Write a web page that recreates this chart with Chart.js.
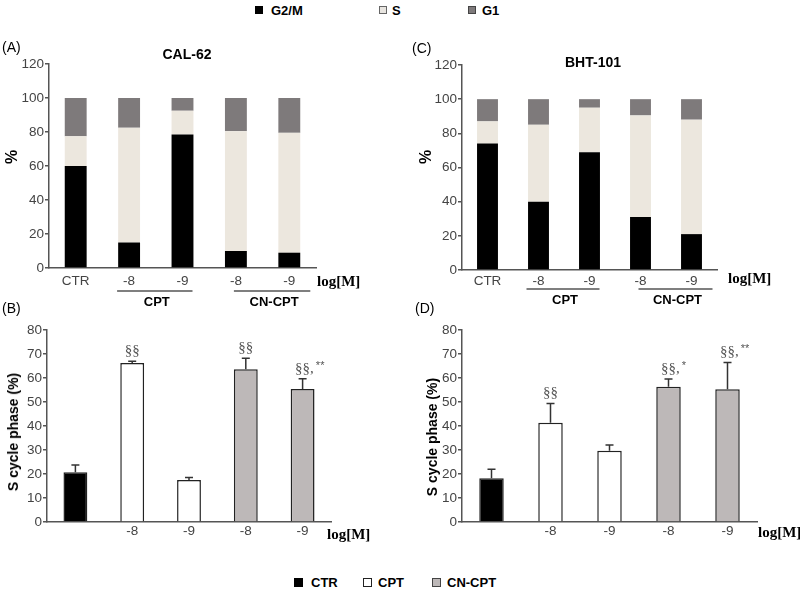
<!DOCTYPE html>
<html><head><meta charset="utf-8">
<script src="https://cdn.jsdelivr.net/npm/chart.js@4.4.0/dist/chart.umd.min.js"></script>
<style>
body{margin:0;background:#fff;width:800px;height:589px;position:relative;overflow:hidden;font-family:"Liberation Sans",Arial,sans-serif;}
canvas{position:absolute;}
.t{position:absolute;white-space:nowrap;color:#000;line-height:1;transform:translate(-50%,-50%);}
.l{position:absolute;white-space:nowrap;color:#000;line-height:1;transform:translateY(-50%);}
.b{font-weight:bold;}
.r{transform:translate(-50%,-50%) rotate(-90deg);}
.sq{position:absolute;width:8px;height:8px;box-sizing:border-box;}
</style></head><body>
<script>
// ---- data ----
const topCats = ["CTR", "-8", "-9", "-8", "-9"];
const botCats = ["", "-8", "-9", "-8", "-9"];
const groupNames = ["CPT", "CN-CPT"];
const phaseNames = ["G2/M", "S", "G1"];
const treatNames = ["CTR", "CPT", "CN-CPT"];

// CAL-62 (A)
const g2mA = [60, 15, 78.5, 10, 9];
const sA   = [17.5, 67.5, 14, 70.5, 70.5];
const g1A  = [22.5, 17.5, 7.5, 19.5, 20.5];
// BHT-101 (C)
const g2mC = [74, 40, 69, 31, 21];
const sC   = [13, 45, 26, 59.5, 67];
const g1C  = [13, 15, 5, 9.5, 12];
// S phase (B) CAL-62
const sPhaseB = [20.7, 66.2, 17.5, 63.6, 55.4];
const errB    = [3, 0.8, 1, 4.6, 4.3];
const sigB    = ["", "§§", "", "§§", "§§,"];
const supB    = ["", "", "", "", "**"];
// S phase (D) BHT-101
const sPhaseD = [18.2, 41.4, 29.7, 56.4, 55.3];
const errD    = [3.8, 8, 2.4, 3.2, 11.2];
const sigD    = ["", "§§", "", "§§,", "§§,"];
const supD    = ["", "", "", "*", "**"];
</script>

<canvas id="cA" width="400" height="275" style="left:0;top:40px"></canvas>
<canvas id="cC" width="400" height="275" style="left:400px;top:40px"></canvas>
<canvas id="cB" width="400" height="250" style="left:0;top:300px"></canvas>
<canvas id="cD" width="400" height="250" style="left:400px;top:300px"></canvas>

<!-- top legend -->
<div class="sq" style="left:255px;top:6px;background:#000"></div>
<div class="l b" style="left:271px;top:10px;font-size:13px" id="lg0"></div>
<div class="sq" style="left:379px;top:6px;background:#e8e5e0;border:1px solid #666"></div>
<div class="l b" style="left:392px;top:10px;font-size:13px" id="lg1"></div>
<div class="sq" style="left:468px;top:6px;background:#7e7a7b;border:1px solid #444"></div>
<div class="l b" style="left:482px;top:10px;font-size:13px" id="lg2"></div>

<!-- panel labels & titles -->
<div class="l" style="left:2px;top:47px;font-size:14px">(A)</div>
<div class="l" style="left:412px;top:48px;font-size:14px">(C)</div>
<div class="l" style="left:2px;top:308px;font-size:14px">(B)</div>
<div class="l" style="left:415px;top:308px;font-size:14px">(D)</div>
<div class="t b" style="left:187px;top:54px;font-size:14px">CAL-62</div>
<div class="t b" style="left:593px;top:62px;font-size:14px">BHT-101</div>
<div class="t b r" style="left:12px;top:157px;font-size:16px">%</div>
<div class="t b r" style="left:426px;top:157px;font-size:16px">%</div>
<div class="t b r" style="left:13px;top:432px;font-size:14px">S cycle phase (%)</div>
<div class="t b r" style="left:432px;top:437px;font-size:14px">S cycle phase (%)</div>

<!-- bottom legend -->
<div class="sq" style="left:294px;top:578px;width:9px;height:9px;background:#000"></div>
<div class="l b" style="left:311px;top:582px;font-size:13px" id="lb0"></div>
<div class="sq" style="left:363px;top:578px;width:9px;height:9px;background:#fff;border:1px solid #222"></div>
<div class="l b" style="left:378px;top:582px;font-size:13px" id="lb1"></div>
<div class="sq" style="left:432px;top:578px;width:9px;height:9px;background:#bdb8b8;border:1px solid #444"></div>
<div class="l b" style="left:447px;top:582px;font-size:13px" id="lb2"></div>

<script>
phaseNames.forEach((n,i)=>document.getElementById('lg'+i).textContent=n);
treatNames.forEach((n,i)=>document.getElementById('lb'+i).textContent=n);

const SANS = '"Liberation Sans", Arial, sans-serif';
const SERIF = '"Liberation Serif", "Times New Roman", serif';

const extrasPlugin = {
  id: 'extras',
  afterDraw(chart, args, o) {
    const {ctx, chartArea, scales: {x}} = chart;
    ctx.save();
    ctx.font = 'bold 15px ' + SERIF;
    ctx.fillStyle = '#000';
    ctx.textAlign = 'left';
    ctx.textBaseline = 'middle';
    ctx.fillText('log[M]', chartArea.right + o.logDx, chartArea.bottom + o.logDy);
    if (o.groups) {
      const spans = [[1, 2, -12, 10], [3, 4, -2, 21]];
      spans.forEach((s, gi) => {
        const x0 = x.getPixelForValue(s[0]) + s[2];
        const x1 = x.getPixelForValue(s[1]) + s[3];
        const ly = chartArea.bottom + o.lineDy;
        ctx.strokeStyle = '#555';
        ctx.lineWidth = 1.5;
        ctx.beginPath(); ctx.moveTo(x0, ly); ctx.lineTo(x1, ly); ctx.stroke();
        ctx.font = 'bold 13px ' + SANS;
        ctx.textAlign = 'center';
        ctx.fillStyle = '#000';
        ctx.fillText(groupNames[gi], (x0 + x1) / 2 + 2, chartArea.bottom + o.labelDy);
      });
    }
    ctx.restore();
  }
};

const errPlugin = {
  id: 'err',
  afterDatasetsDraw(chart, args, o) {
    if (!o.err) return;
    const {ctx, scales: {x, y}} = chart;
    const vals = chart.data.datasets[0].data;
    ctx.save();
    vals.forEach((v, i) => {
      const cx = x.getPixelForValue(i);
      const top = y.getPixelForValue(v);
      const et = y.getPixelForValue(v + o.err[i]);
      ctx.strokeStyle = '#333';
      ctx.lineWidth = 1.5;
      ctx.beginPath();
      ctx.moveTo(cx, top); ctx.lineTo(cx, et);
      ctx.moveTo(cx - 4, et); ctx.lineTo(cx + 4, et);
      ctx.stroke();
      if (o.sig[i]) {
        ctx.font = '15px ' + SERIF;
        ctx.fillStyle = '#555';
        ctx.textAlign = 'left';
        ctx.textBaseline = 'alphabetic';
        const w = ctx.measureText('§§').width;
        const xx = cx - w / 2;
        ctx.fillText(o.sig[i], xx, et - 6);
        if (o.sup[i]) {
          const mw = ctx.measureText(o.sig[i]).width;
          ctx.font = '11px ' + SANS;
          ctx.fillText(o.sup[i], xx + mw + 2, et - 10);
        }
      }
    });
    ctx.restore();
  }
};

function yAxis(max, step, w) {
  return {
    min: 0, max: max,
    ticks: {stepSize: step, color: '#444', font: {family: SANS, size: 13.5}, padding: 1},
    grid: {drawOnChartArea: false, tickLength: 4, color: '#555', lineWidth: 1.5},
    border: {color: '#555', width: 1.5},
    afterFit: s => { s.width = w; }
  };
}
function xAxis(h, pad) {
  return {
    grid: {display: false, drawTicks: false},
    border: {color: '#555', width: 1.5},
    ticks: {color: '#444', font: {family: SANS, size: 13.5}, padding: pad, maxRotation: 0, autoSkip: false},
    afterFit: s => { s.height = h; }
  };
}

function stackChart(id, g2m, s, g1, yW, pad, xh, xpad, ext) {
  const xa = xAxis(xh, xpad); xa.stacked = true;
  const ya = yAxis(120, 20, yW); ya.stacked = true;
  new Chart(document.getElementById(id), {
    type: 'bar',
    data: {labels: topCats, datasets: [
      {label: phaseNames[0], data: g2m, backgroundColor: '#000'},
      {label: phaseNames[1], data: s, backgroundColor: '#ece7de'},
      {label: phaseNames[2], data: g1, backgroundColor: '#7e7a7b'}
    ]},
    options: {
      responsive: false, animation: false, devicePixelRatio: 1,
      layout: {padding: pad},
      datasets: {bar: {barPercentage: 0.41, categoryPercentage: 1}},
      plugins: {legend: {display: false}, tooltip: {enabled: false}, title: {display: false}, extras: ext},
      scales: {x: xa, y: ya}
    },
    plugins: [extrasPlugin]
  });
}

function sChart(id, vals, err, sig, sup, yW, pad, bp, ext) {
  new Chart(document.getElementById(id), {
    type: 'bar',
    data: {labels: botCats, datasets: [{
      data: vals,
      backgroundColor: ['#000', '#fff', '#fff', '#bdb8b8', '#bdb8b8'],
      borderColor: '#222', borderWidth: 1.5
    }]},
    options: {
      responsive: false, animation: false, devicePixelRatio: 1,
      layout: {padding: pad},
      datasets: {bar: {barPercentage: bp, categoryPercentage: 1}},
      plugins: {legend: {display: false}, tooltip: {enabled: false}, extras: ext, err: {err: err, sig: sig, sup: sup}},
      scales: {x: xAxis(20, 1), y: yAxis(80, 10, yW)}
    },
    plugins: [errPlugin, extrasPlugin]
  });
}

stackChart('cA', g2mA, sA, g1A, 49, {top: 24, right: 84, bottom: 25, left: 0}, 22, 5,
  {groups: true, logDx: 1, logDy: 14, lineDy: 23, labelDy: 34});
stackChart('cC', g2mC, sC, g1C, 62, {top: 25, right: 83, bottom: 25, left: 0}, 20, 3,
  {groups: true, logDx: 11, logDy: 9, lineDy: 19, labelDy: 30});
sChart('cB', sPhaseB, errB, sigB, supB, 47, {top: 30, right: 69, bottom: 8, left: 0}, 0.42,
  {groups: false, logDx: -4, logDy: 13});
sChart('cD', sPhaseD, errD, sigD, supD, 62, {top: 30, right: 43, bottom: 8, left: 0}, 0.415,
  {groups: false, logDx: 1, logDy: 11});
</script>
</body></html>
